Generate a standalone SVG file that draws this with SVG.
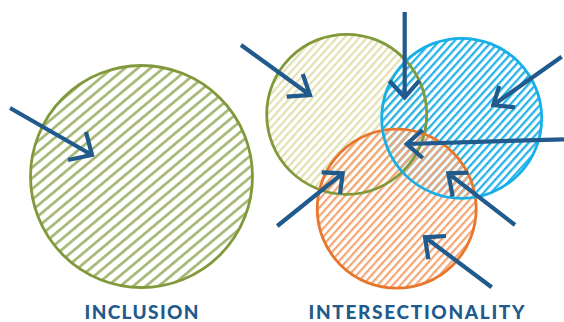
<svg xmlns="http://www.w3.org/2000/svg" width="564" height="322" viewBox="0 0 564 322">
<style>
.ring{fill:none;stroke-width:2.8}
.arr{fill:none;stroke:#215a8d;stroke-width:4.2}
.lbl{font-family:Lato,"Open Sans","Liberation Sans",sans-serif;font-weight:900;font-size:19px;fill:#215a8d}
</style>
<defs>
<pattern id="hOlive" patternUnits="userSpaceOnUse" width="8.2" height="8.2" patternTransform="rotate(50)">
<rect x="0" y="0" width="2.8" height="8.2" fill="#a9b97a"/>
</pattern>
<pattern id="hPale" patternUnits="userSpaceOnUse" width="5.6" height="5.6" patternTransform="rotate(42)">
<rect x="0" y="0" width="2.2" height="5.6" fill="#e2dfb0"/>
</pattern>
<pattern id="hBlue" patternUnits="userSpaceOnUse" width="5.6" height="5.6" patternTransform="rotate(42)">
<rect x="0" y="0" width="2.3" height="5.6" fill="#27b3e8"/>
</pattern>
<pattern id="hOrange" patternUnits="userSpaceOnUse" width="5.6" height="5.6" patternTransform="rotate(42)">
<rect x="0" y="0" width="2.2" height="5.6" fill="#f2a676"/>
</pattern>
</defs>
<rect width="564" height="322" fill="#ffffff"/>

<g id="inclusion">
<circle cx="141.5" cy="176.5" r="111" fill="url(#hOlive)"/>
<circle class="ring" cx="141.5" cy="176.5" r="111" stroke="#80993a"/>
<text class="lbl" x="141.5" y="319" text-anchor="middle" textLength="114" lengthAdjust="spacing">INCLUSION</text>
</g>

<g id="olive-circle">
<circle cx="346.7" cy="114.3" r="80" fill="url(#hPale)"/>
</g>
<g id="blue-circle">
<circle cx="461.7" cy="118.3" r="80" fill="url(#hBlue)"/>
</g>
<g id="orange-circle">
<circle cx="396.7" cy="208.7" r="79.5" fill="url(#hOrange)"/>
</g>
<g id="rings">
<circle class="ring" cx="346.7" cy="114.3" r="80" stroke="#80993a"/>
<circle class="ring" cx="396.7" cy="208.7" r="79.5" stroke="#e8762c"/>
<circle class="ring" cx="461.7" cy="118.3" r="80" stroke="#16afe8"/>
</g>
<text id="intersectionality" class="lbl" x="416.5" y="319" text-anchor="middle" textLength="216" lengthAdjust="spacing">INTERSECTIONALITY</text>

<g id="connectors">
<path class="arr" d="M10,108 L92,155 M86,132 L92,155 L68,160"/>
<path class="arr" d="M241,45 L310,95 M302.7,74 L310,95 L286.7,96.7"/>
<path class="arr" d="M404.7,12 L404.7,97.3 M389.3,80.7 L404.7,97.3 L419.3,80.7"/>
<path class="arr" d="M561.7,56.7 L493.3,105 M499.3,86 L493.3,105 L515,107.3"/>
<path class="arr" d="M564,139.3 L406.7,144 M422.7,130 L406.7,144 L422.7,158"/>
<path class="arr" d="M277.3,226 L342.7,173.3 M321.7,172.3 L342.7,173.3 L340,194"/>
<path class="arr" d="M515,225 L448.3,173.3 M468.3,172.7 L448.3,173.3 L452.7,196.7"/>
<path class="arr" d="M491.7,287.3 L425,237.3 M446,236 L425,237.3 L428.3,259.3"/>
</g>
</svg>
